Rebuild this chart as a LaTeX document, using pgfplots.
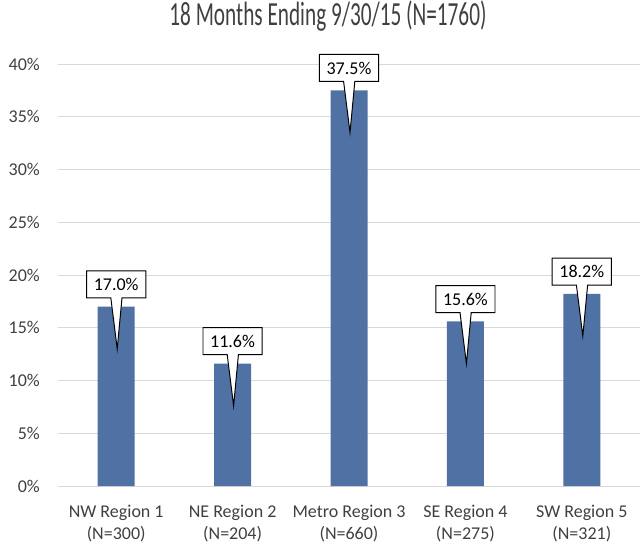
\documentclass[border=0pt]{standalone}
\usepackage{pgfplots}
\pgfplotsset{compat=1.18}
\usepackage{fontspec}
\setmainfont{Carlito}
\newfontfamily\titlefont[FakeStretch=0.63]{Carlito}
\usetikzlibrary{shapes.callouts,calc}
\definecolor{barblue}{HTML}{4F71A3}
\definecolor{gridgray}{HTML}{D9D9D9}
\definecolor{txt}{HTML}{404040}

\begin{document}
\begin{tikzpicture}
\begin{axis}[
  scale only axis,
  width=14.55cm, height=10.55cm,
  ybar, bar width=0.925cm,
  xmin=-0.5, xmax=4.5,
  ymin=0, ymax=40,
  xtick=data,
  xticklabels={{NW Region 1\\(N=300)},{NE Region 2\\(N=204)},{Metro Region 3\\(N=660)},{SE Region 4\\(N=275)},{SW Region 5\\(N=321)}},
  xticklabel style={align=center, font=\fontsize{12.8}{15.5}\selectfont, text=txt, yshift=-0.2cm},
  ytick={0,5,...,40},
  yticklabels={0\%,5\%,10\%,15\%,20\%,25\%,30\%,35\%,40\%},
  yticklabel style={font=\fontsize{12.8}{15.5}\selectfont, text=txt, xshift=-0.33cm},
  ymajorgrids, grid style={gridgray, line width=0.7pt},
  axis line style={draw=none},
  tick style={draw=none},
  title={18 Months Ending 9/30/15 (N=1760)},
  title style={at={(0.5,1)}, anchor=base, yshift=0.75cm, xshift=-0.525cm,
    font=\titlefont\fontsize{24}{28}\selectfont, text=txt},
  nodes near coords={\pgfmathprintnumber[fixed,fixed zerofill,precision=1,assume math mode=true]{\pgfplotspointmeta}\%},
  every node near coord/.append style={
    rectangle callout, draw=black, line width=0.7pt, fill=white, text=black,
    anchor=south, yshift=0.21cm, inner sep=0pt,
    minimum width=1.48cm, minimum height=0.675cm,
    callout relative pointer={(0.02cm,-1.275cm)}, callout pointer width=0.28cm,
    font=\fontsize{12.8}{15.5}\selectfont},
]
\addplot[fill=barblue, draw=none] coordinates {(0,17.0) (1,11.6) (2,37.5) (3,15.6) (4,18.2)};
\end{axis}
\pgfresetboundingbox
\path ($(current axis.south west)+(-1.45cm,-1.475cm)$) rectangle ($(current axis.north east)+(0.05cm,1.6cm)$);
\end{tikzpicture}
\end{document}
